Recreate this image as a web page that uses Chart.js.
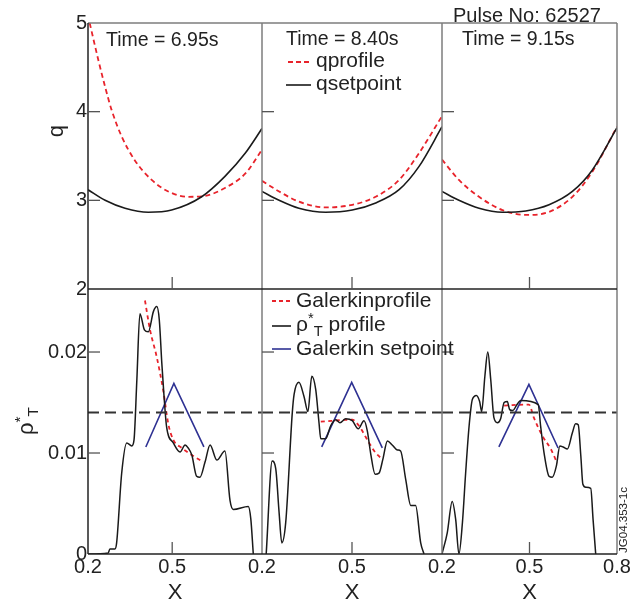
<!DOCTYPE html>
<html>
<head>
<meta charset="utf-8">
<script src="https://cdn.jsdelivr.net/npm/chart.js@4.4.0/dist/chart.umd.min.js"></script>
<style>
  body { margin: 0; background: #fff; }
  #wrap { position: relative; width: 640px; height: 608px; font-family: "Liberation Sans", Arial, sans-serif; color: #222; }
  #chart { position: absolute; left: 0; top: 0; }
  .txt { position: absolute; white-space: nowrap; line-height: 1; }
  .leg { font-size: 21px; }
  .rot { transform: translate(-50%, -50%) rotate(-90deg); }
  svg { position: absolute; overflow: visible; }
  sup, sub { font-size: 70%; line-height: 0; }
</style>
</head>
<body>
<div id="wrap">
  <canvas id="chart" width="640" height="608"></canvas>

  <div class="txt" style="left:453px; top:5px; font-size:20px;">Pulse No: 62527</div>
  <div class="txt" id="time0" style="left:106px; top:30px; font-size:19.5px;"></div>
  <div class="txt" id="time1" style="left:286px; top:29px; font-size:19.5px;"></div>
  <div class="txt" id="time2" style="left:462px; top:29px; font-size:19.5px;"></div>

  <svg width="640" height="608" style="left:0; top:0;">
    <line x1="288" y1="62" x2="311" y2="62" stroke="#e8232b" stroke-width="1.8" stroke-dasharray="5 3"/>
    <line x1="286" y1="85" x2="311" y2="85" stroke="#1a1a1a" stroke-width="1.6"/>
    <line x1="272" y1="301" x2="291" y2="301" stroke="#e8232b" stroke-width="1.8" stroke-dasharray="4 3"/>
    <line x1="272" y1="326" x2="291" y2="326" stroke="#1a1a1a" stroke-width="1.6"/>
    <line x1="272" y1="349" x2="291" y2="349" stroke="#2e3192" stroke-width="1.6"/>
  </svg>
  <div class="txt leg" style="left:316px; top:49px;">qprofile</div>
  <div class="txt leg" style="left:316px; top:72px;">qsetpoint</div>
  <div class="txt leg" style="left:296px; top:289px;">Galerkinprofile</div>
  <div class="txt leg" style="left:296px; top:313px;">&rho;<sup>*</sup><sub>T</sub> profile</div>
  <div class="txt leg" style="left:296px; top:337px;">Galerkin setpoint</div>

  <div class="txt rot" style="left:56px; top:131px; font-size:22px;">q</div>
  <div class="txt rot" style="left:26px; top:421px; font-size:22px;">&rho;<sup>*</sup><sub>T</sub></div>
  <div class="txt rot" style="left:624px; top:520px; font-size:11.5px;">JG04.353-1c</div>
</div>

<script>
const FONT = "'Liberation Sans', Arial, sans-serif";

// panel times
const times = ["6.95", "8.40", "9.15"];

// axis ticks
const qTicks = [2, 3, 4, 5];
const rhoTicks = [0, 0.01, 0.02];
const xTicksA = [0.2, 0.5];
const xTicksB = [0.2, 0.5, 0.8];
const rhoRef = 0.014;

// q profiles [x, q]
const qset695 = [[0.2,3.12],[0.261,3.0],[0.332,2.91],[0.415,2.865],[0.498,2.89],[0.605,3.04],[0.688,3.27],[0.76,3.53],[0.82,3.81]];
const qprof695 = [[0.206,5.0],[0.237,4.58],[0.261,4.28],[0.284,4.02],[0.32,3.72],[0.367,3.45],[0.427,3.23],[0.486,3.10],[0.557,3.04],[0.617,3.05],[0.688,3.14],[0.76,3.30],[0.82,3.57]];
const qset840 = [[0.2,3.1],[0.257,3.0],[0.323,2.91],[0.412,2.865],[0.501,2.89],[0.579,2.97],[0.657,3.12],[0.723,3.38],[0.8,3.83]];
const qprof840 = [[0.2,3.22],[0.257,3.1],[0.323,2.985],[0.412,2.92],[0.501,2.95],[0.579,3.04],[0.657,3.23],[0.723,3.53],[0.8,3.95]];
const qset915 = [[0.2,3.1],[0.258,3.0],[0.327,2.91],[0.407,2.865],[0.487,2.88],[0.567,2.95],[0.647,3.1],[0.715,3.34],[0.8,3.82]];
const qprof915 = [[0.2,3.46],[0.258,3.23],[0.327,3.04],[0.407,2.89],[0.487,2.835],[0.567,2.87],[0.647,3.04],[0.715,3.32],[0.8,3.83]];

// rho*_T profiles [x, rho]
const rho695 = [[0.2,0],[0.272,0.0001],[0.278,0.0005],[0.296,0.0005],[0.302,0.0011],[0.32,0.008],[0.338,0.011],[0.356,0.0107],[0.364,0.0113],[0.374,0.0172],[0.385,0.0238],[0.401,0.0222],[0.415,0.022],[0.433,0.024],[0.445,0.0245],[0.454,0.0232],[0.463,0.0189],[0.471,0.0156],[0.48,0.0126],[0.504,0.011],[0.528,0.0101],[0.546,0.0108],[0.557,0.0105],[0.57,0.0098],[0.587,0.0077],[0.599,0.0076],[0.617,0.0091],[0.635,0.0108],[0.659,0.0093],[0.688,0.0102],[0.706,0.0053],[0.718,0.0044],[0.771,0.0047],[0.78,0.0035],[0.789,0]];
const galProf695 = [[0.403,0.0251],[0.421,0.0222],[0.445,0.0195],[0.468,0.0162],[0.486,0.0129],[0.504,0.0113],[0.534,0.0105],[0.57,0.0098],[0.611,0.0091]];
const galSet695 = [[0.406,0.0106],[0.506,0.0169],[0.613,0.0106]];

const rho840 = [[0.214,0],[0.234,0.0092],[0.246,0.0084],[0.257,0.0041],[0.266,0.0011],[0.279,0.0031],[0.301,0.014],[0.307,0.0158],[0.323,0.017],[0.34,0.0156],[0.353,0.0141],[0.366,0.0176],[0.379,0.0163],[0.39,0.013],[0.396,0.0114],[0.412,0.0114],[0.429,0.0127],[0.446,0.0133],[0.46,0.013],[0.479,0.0134],[0.501,0.0132],[0.521,0.0124],[0.54,0.0132],[0.551,0.0122],[0.562,0.01],[0.577,0.0079],[0.59,0.008],[0.603,0.0094],[0.618,0.0112],[0.634,0.0108],[0.651,0.0103],[0.662,0.0102],[0.679,0.0074],[0.696,0.0048],[0.712,0.0048],[0.729,0.0011],[0.74,0]];
const galProf840 = [[0.396,0.0131],[0.501,0.0133],[0.523,0.0127],[0.557,0.011],[0.579,0.01],[0.601,0.0094]];
const galSet840 = [[0.399,0.0106],[0.499,0.017],[0.601,0.0105]];

const rho915 = [[0.2,0],[0.218,0.0021],[0.235,0.0052],[0.247,0.0034],[0.258,0],[0.27,0.0031],[0.281,0.008],[0.293,0.0127],[0.304,0.0153],[0.318,0.0157],[0.329,0.0151],[0.336,0.0141],[0.347,0.0176],[0.357,0.02],[0.367,0.0173],[0.378,0.0135],[0.39,0.013],[0.401,0.0134],[0.413,0.015],[0.424,0.0151],[0.432,0.0143],[0.443,0.0142],[0.455,0.0147],[0.47,0.0152],[0.53,0.0148],[0.538,0.0127],[0.55,0.01],[0.567,0.0077],[0.578,0.0076],[0.592,0.0087],[0.604,0.0107],[0.615,0.0106],[0.63,0.0104],[0.647,0.012],[0.658,0.0129],[0.667,0.0128],[0.676,0.0097],[0.683,0.0069],[0.693,0.0066],[0.71,0.0065],[0.718,0.0034],[0.727,0]];
const galProf915 = [[0.413,0.0147],[0.498,0.0148],[0.515,0.0135],[0.544,0.0117],[0.573,0.0104],[0.595,0.009]];
const galSet915 = [[0.395,0.0106],[0.498,0.0168],[0.598,0.0105]];

times.forEach((t, i) => {
  document.getElementById("time" + i).textContent = "Time = " + t + "s";
});

const RED = "#e8232b";
const BLUE = "#2e3192";
const BLACK = "#1a1a1a";

function pts(arr) {
  return arr.map(p => ({ x: p[0], y: p[1] }));
}

function series(arr, xId, yId, color, dash, width, smooth) {
  return {
    data: pts(arr),
    xAxisID: xId,
    yAxisID: yId,
    borderColor: color,
    borderWidth: width,
    borderDash: dash,
    pointRadius: 0,
    fill: false,
    cubicInterpolationMode: smooth ? "monotone" : "default",
    tension: 0
  };
}

const datasets = [];
const qsets = [qset695, qset840, qset915];
const qprofs = [qprof695, qprof840, qprof915];
const rhos = [rho695, rho840, rho915];
const galProfs = [galProf695, galProf840, galProf915];
const galSets = [galSet695, galSet840, galSet915];
const xMax = [0.82, 0.8, 0.8];

for (let i = 0; i < 3; i++) {
  const xid = "x" + i;
  datasets.push(series(qsets[i], xid, "yq", BLACK, [], 1.6, true));
  datasets.push(series(qprofs[i], xid, "yq", RED, [5, 3.5], 1.8, true));
  datasets.push(series([[0.2, rhoRef], [xMax[i], rhoRef]], xid, "yr", "#333", [11, 6], 2, false));
  datasets.push(series(rhos[i], xid, "yr", BLACK, [], 1.5, true));
  datasets.push(series(galSets[i], xid, "yr", BLUE, [], 1.6, false));
  datasets.push(series(galProfs[i], xid, "yr", RED, [4, 3.5], 1.8, true));
}

function xAxis(max, ticks, weight) {
  return {
    type: "linear",
    position: "bottom",
    stack: "cols",
    stackWeight: weight,
    min: 0.2,
    max: max,
    grid: { display: false, drawTicks: false },
    border: { display: false },
    afterBuildTicks: sc => { sc.ticks = ticks.map(v => ({ value: v })); },
    afterFit: sc => { sc.height = 54; },
    ticks: {
      color: "#222",
      font: { size: 20, family: FONT },
      padding: 1,
      autoSkip: false,
      maxRotation: 0,
      callback: v => v.toFixed(1)
    },
    title: {
      display: true,
      text: "X",
      color: "#222",
      font: { size: 22, family: FONT },
      padding: { top: 0, bottom: 2 }
    }
  };
}

function yAxis(min, max, ticks, weight, fmt) {
  return {
    type: "linear",
    position: "left",
    stack: "rows",
    stackWeight: weight,
    min: min,
    max: max,
    grid: { display: false, drawTicks: false },
    border: { display: false },
    afterBuildTicks: sc => { sc.ticks = ticks.map(v => ({ value: v })); },
    afterFit: sc => { sc.width = 88; },
    ticks: {
      color: "#222",
      font: { size: 20, family: FONT },
      padding: 1,
      autoSkip: false,
      callback: fmt
    }
  };
}

// panel frames and inward tick marks
const frames = {
  id: "frames",
  afterDatasetsDraw(chart) {
    const ctx = chart.ctx;
    const s = chart.scales;
    const cols = [s.x0, s.x1, s.x2];
    const rows = [s.yq, s.yr];
    const rowTicks = [qTicks, rhoTicks];
    const left = cols[0].left;
    const right = cols[2].right;
    const top = Math.min(rows[0].top, rows[1].top);
    const bottom = Math.max(rows[0].bottom, rows[1].bottom);
    const mid = rows[1].top;

    function line(x1, y1, x2, y2) {
      ctx.beginPath();
      ctx.moveTo(x1, y1);
      ctx.lineTo(x2, y2);
      ctx.stroke();
    }

    ctx.save();
    ctx.lineWidth = 1.5;
    ctx.strokeStyle = "#7d7d7d";
    line(cols[1].left, top, cols[1].left, bottom);
    line(cols[2].left, top, cols[2].left, bottom);
    line(right, top, right, bottom);
    line(left, top, right, top);

    ctx.strokeStyle = "#222";
    line(left, top, left, bottom);
    line(left, mid, right, mid);
    line(left, bottom, right, bottom);

    ctx.strokeStyle = "#555";
    ctx.lineWidth = 1.3;
    cols.forEach(xs => {
      const px = xs.getPixelForValue(0.5);
      rows.forEach((ys, r) => {
        line(px, ys.bottom, px, ys.bottom - 12);
        rowTicks[r].forEach(v => {
          if (v <= ys.min || v >= ys.max) return;
          const py = ys.getPixelForValue(v);
          line(xs.left, py, xs.left + 12, py);
        });
      });
    });
    ctx.restore();
  }
};

new Chart(document.getElementById("chart"), {
  type: "line",
  data: { datasets: datasets },
  options: {
    responsive: false,
    animation: false,
    devicePixelRatio: 1,
    layout: { padding: { top: 23, right: 23, left: 0, bottom: 0 } },
    plugins: {
      legend: { display: false },
      tooltip: { enabled: false }
    },
    scales: {
      x0: xAxis(0.82, xTicksA, 174),
      x1: xAxis(0.8, xTicksA, 180),
      x2: xAxis(0.8, xTicksB, 175),
      // left axes stack in reverse order: the last listed is placed on top
      yr: yAxis(0, 0.02624, rhoTicks, 265, v => (v === 0 ? "0" : v.toFixed(2))),
      yq: yAxis(2, 5, qTicks, 266, v => String(v))
    }
  },
  plugins: [frames]
});
</script>
</body>
</html>
